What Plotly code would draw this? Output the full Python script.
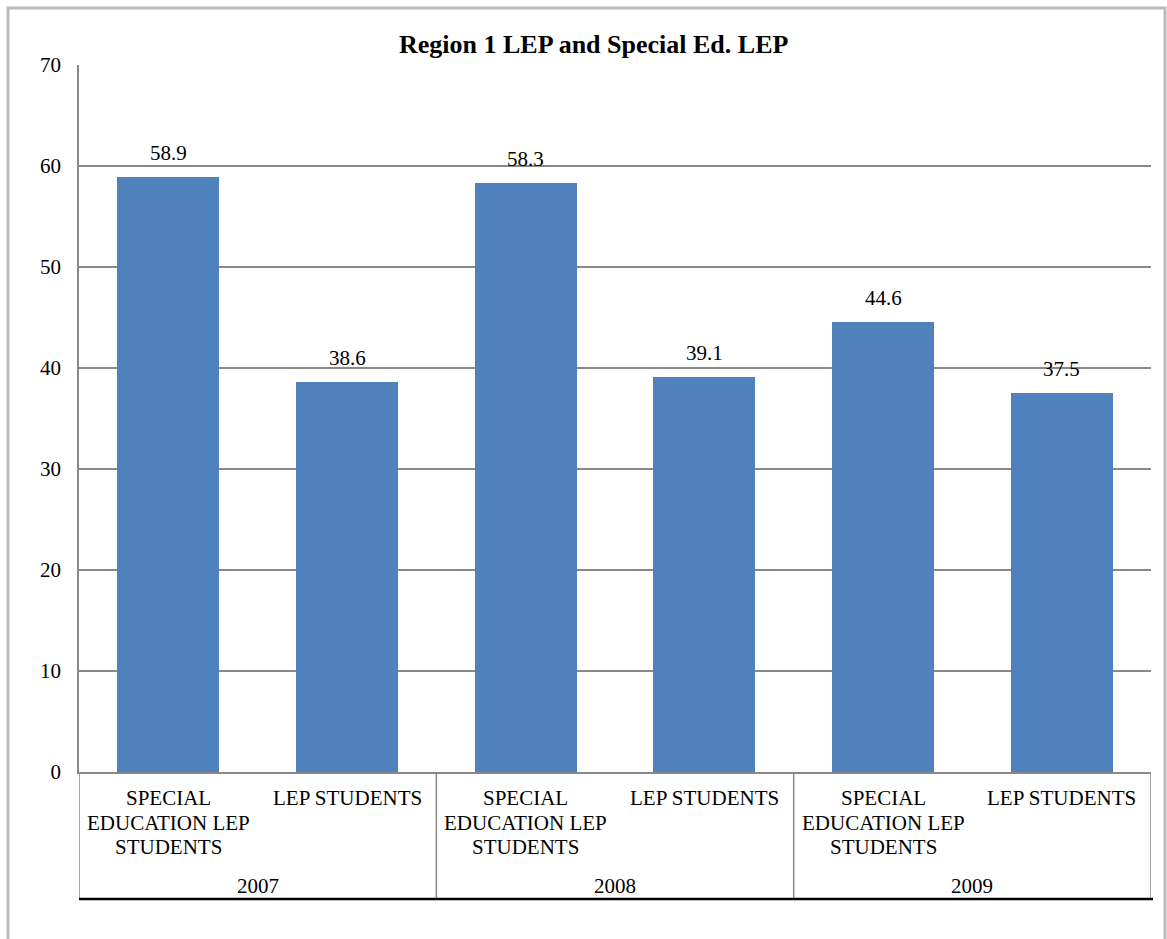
import plotly.graph_objects as go

years = ["2007", "2008", "2009"]
groups = [["SPECIAL", "EDUCATION LEP", "STUDENTS"], ["LEP STUDENTS"]]
values = [58.9, 38.6, 58.3, 39.1, 44.6, 37.5]
value_labels = ["58.9", "38.6", "58.3", "39.1", "44.6", "37.5"]
y_ticks = [0, 10, 20, 30, 40, 50, 60, 70]

FONT = "Liberation Serif, Times New Roman, serif"
BAR = "#4F81BD"
GRID = "#898989"
FS = 21

W, H = 1167, 939
L, R, T, B = 79, 16, 65, 167
pw, ph = W - L - R, H - T - B

def px_x(x):
    return (x - L) / pw

def px_y(y):
    return (H - B - y) / ph

xs = list(range(len(values)))

fig = go.Figure()
fig.add_trace(go.Bar(
    x=xs, y=values, width=0.57,
    marker=dict(color=BAR, line=dict(width=0)),
    hoverinfo="skip",
))

shapes = []
# outer chart border
shapes.append(dict(type="rect", xref="paper", yref="paper",
                   x0=px_x(8), x1=px_x(1165), y0=px_y(8), y1=px_y(960),
                   line=dict(color="#BBBBBB", width=3), layer="below"))
# category separators
for xv in [-0.5, 1.5, 3.5, 5.5]:
    shapes.append(dict(type="line", xref="x", yref="paper",
                       x0=xv, x1=xv, y0=0, y1=px_y(899),
                       line=dict(color=GRID, width=1.5)))
# bottom black line
shapes.append(dict(type="line", xref="paper", yref="paper",
                   x0=0, x1=px_x(1153), y0=px_y(899), y1=px_y(899),
                   line=dict(color="black", width=2.5)))

annotations = []
# value labels above bars
for x, v, t in zip(xs, values, value_labels):
    annotations.append(dict(x=x, y=v, xref="x", yref="y", text=t,
                            showarrow=False, yanchor="bottom", yshift=10,
                            font=dict(family=FONT, size=FS, color="black")))
# category labels (one annotation per line for tighter line spacing)
for i, x in enumerate(xs):
    for k, line in enumerate(groups[i % 2]):
        annotations.append(dict(x=x, y=px_y(798 + 24.5 * k), xref="x", yref="paper",
                                text=line, showarrow=False, yanchor="middle",
                                font=dict(family=FONT, size=FS, color="black")))
for j, yr in enumerate(years):
    annotations.append(dict(x=2 * j + 0.5, y=px_y(886), xref="x", yref="paper",
                            text=yr, showarrow=False, yanchor="middle",
                            font=dict(family=FONT, size=FS, color="black")))
annotations.append(dict(x=px_x(593), y=px_y(45), xref="paper", yref="paper",
                        text="<b>Region 1 LEP and Special Ed. LEP</b>",
                        showarrow=False, yanchor="middle",
                        font=dict(family=FONT, size=26, color="black")))

fig.update_layout(
    width=W, height=H,
    margin=dict(l=L, r=R, t=T, b=B, pad=0),
    paper_bgcolor="white", plot_bgcolor="white",
    showlegend=False,
    shapes=shapes, annotations=annotations,
    bargap=0,
    xaxis=dict(range=[-0.5, 5.5], showticklabels=False, showgrid=False,
               zeroline=False, showline=True, linecolor=GRID, linewidth=1.5,
               mirror=False, fixedrange=True),
    yaxis=dict(range=[0, 70], tickvals=y_ticks, showgrid=True, gridcolor=GRID,
               gridwidth=1.5, zeroline=False, showline=True, linecolor=GRID,
               linewidth=1.5, ticks="", ticklabelstandoff=12,
               tickfont=dict(family=FONT, size=FS, color="black"),
               fixedrange=True),
)

fig.write_html("out.html")
